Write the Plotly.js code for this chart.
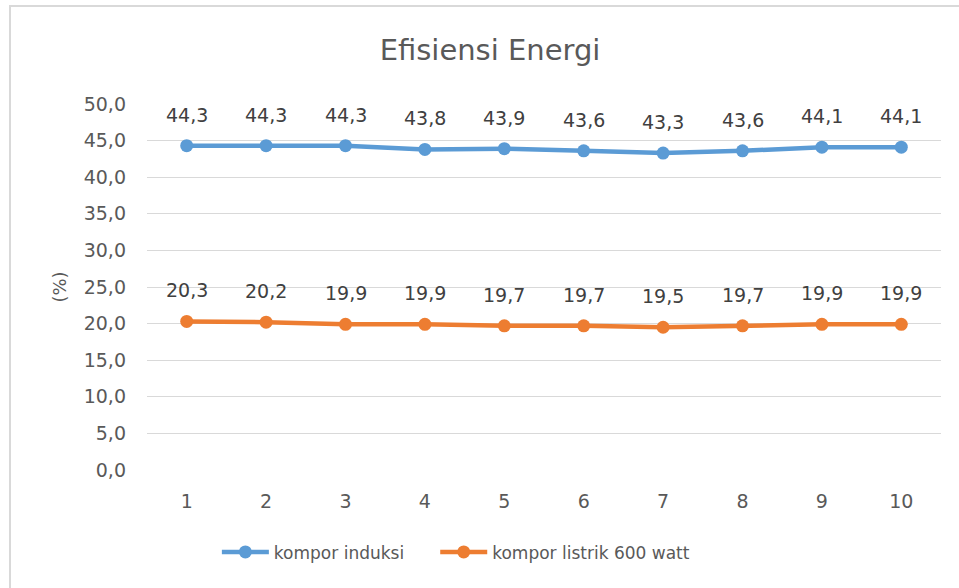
<!DOCTYPE html>
<html>
<head>
<meta charset="utf-8">
<script src="https://cdn.plot.ly/plotly-3.0.1.min.js"></script>
<style>
html,body{margin:0;padding:0;background:#fff;}
#wrap{position:relative;width:959px;height:588px;overflow:hidden;}
#chart{width:959px;height:588px;}
#frame{position:absolute;left:9px;top:5px;width:980px;height:620px;border:2px solid #d9d9d9;pointer-events:none;}
</style>
</head>
<body>
<div id="wrap"><div id="chart"></div><div id="frame"></div></div>
<script>
const categories = [1, 2, 3, 4, 5, 6, 7, 8, 9, 10];
const induksi = [44.3, 44.3, 44.3, 43.8, 43.9, 43.6, 43.3, 43.6, 44.1, 44.1];
const listrik = [20.3, 20.2, 19.9, 19.9, 19.7, 19.7, 19.5, 19.7, 19.9, 19.9];
const seriesNames = ["kompor induksi", "kompor listrik 600 watt"];
const yTicks = [0, 5, 10, 15, 20, 25, 30, 35, 40, 45, 50];

const FONT = "'DejaVu Sans', sans-serif";
const blue = "#5b9bd5", orange = "#ed7d31";

const traces = [
  {x: categories, y: induksi, name: seriesNames[0], type: "scatter", mode: "lines+markers",
   line: {color: blue, width: 4.5}, marker: {color: blue, size: 13}, legend: "legend"},
  {x: categories, y: listrik, name: seriesNames[1], type: "scatter", mode: "lines+markers",
   line: {color: orange, width: 4.5}, marker: {color: orange, size: 13}, legend: "legend2"}
];

const fmt = v => v.toFixed(1).replace(".", ",");
const annotations = [];
[induksi, listrik].forEach(arr => {
  arr.forEach((v, i) => {
    annotations.push({x: categories[i], y: v, xref: "x", yref: "y", text: fmt(v),
      showarrow: false, yshift: 31, font: {family: FONT, size: 19, color: "#404040"}});
  });
});

const legendFont = {family: FONT, size: 17, color: "#595959"};
const layout = {
  width: 959, height: 588,
  margin: {l: 147, r: 18, t: 104, b: 118},
  paper_bgcolor: "#fff", plot_bgcolor: "#fff",
  separators: ",.",
  title: {text: "Efisiensi Energi", x: 0.511, xanchor: "center", y: 0.915, yanchor: "middle",
    font: {family: FONT, size: 29, color: "#595959"}},
  xaxis: {range: [0.5, 10.5], tickvals: categories, ticktext: categories.map(String),
    showgrid: false, zeroline: false, showline: false, ticks: "", ticklabelstandoff: 18,
    tickfont: {family: FONT, size: 19, color: "#595959"}, fixedrange: true},
  yaxis: {range: [0, 50], tickvals: yTicks, tickformat: ".1f",
    showgrid: true, gridcolor: "#d9d9d9", gridwidth: 1, zeroline: false, showline: false,
    ticks: "", ticklabelstandoff: 20,
    tickfont: {family: FONT, size: 19, color: "#595959"},
    title: {text: "(%)", standoff: 12, font: {family: FONT, size: 18, color: "#595959"}}},
  showlegend: true,
  legend: {orientation: "h", x: 0.088, xanchor: "left", y: -0.225, yanchor: "middle",
    font: legendFont, itemwidth: 47, bgcolor: "rgba(0,0,0,0)"},
  legend2: {orientation: "h", x: 0.363, xanchor: "left", y: -0.225, yanchor: "middle",
    font: legendFont, itemwidth: 47, bgcolor: "rgba(0,0,0,0)"},
  annotations: annotations
};

Plotly.newPlot("chart", traces, layout, {displayModeBar: false, staticPlot: true});
</script>
</body>
</html>
